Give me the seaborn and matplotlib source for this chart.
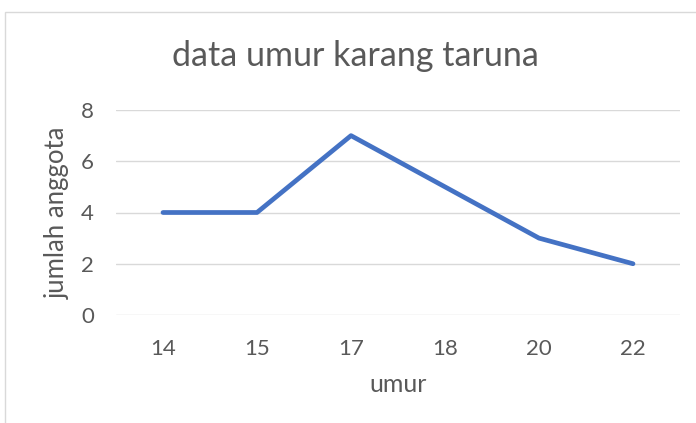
import matplotlib.pyplot as plt
import matplotlib.patches as mpatches
import pandas as pd
import seaborn as sns

umur = ["14", "15", "17", "18", "20", "22"]
jumlah = [4, 4, 7, 5, 3, 2]

sns.set_style("white")
plt.rcParams["font.family"] = ["Lato", "DejaVu Sans"]

df = pd.DataFrame({"umur": umur, "jumlah": jumlah})

fig = plt.figure(figsize=(6.96, 4.23), dpi=100, facecolor="white")
ax = fig.add_axes([116 / 696, 1 - 315 / 423, 564 / 696, 205 / 423])

# bingkai chart ala Excel
fig.patches.append(mpatches.Rectangle(
    (5 / 696, -0.1), 1.2, 1 - 12 / 423 + 0.1, transform=fig.transFigure,
    fill=False, edgecolor="#d9d9d9", linewidth=1.0))

sns.lineplot(data=df, x="umur", y="jumlah", color="#4472C4", linewidth=3.4,
             sort=False, ax=ax, solid_capstyle="round")

ax.set_xlim(-0.5, len(umur) - 0.5)
ax.set_ylim(0, 8)
ax.set_yticks([0, 2, 4, 6, 8])
ax.yaxis.grid(True, color="#d9d9d9", linewidth=1.0)
ax.set_axisbelow(True)
for s in ax.spines.values():
    s.set_visible(False)
ax.tick_params(axis="both", length=0, labelsize=16, colors="#595959")
ax.tick_params(axis="x", pad=17)
ax.tick_params(axis="y", pad=16)

ax.set_xlabel("umur", fontsize=18, color="#595959", labelpad=10)
ax.set_ylabel("jumlah anggota", fontsize=18.5, color="#595959", labelpad=8)
fig.text(355 / 696, 1 - 56 / 423, "data umur karang taruna", ha="center",
         va="center", fontsize=24.5, color="#595959")

fig.savefig("out.png", dpi=100, facecolor="white")
